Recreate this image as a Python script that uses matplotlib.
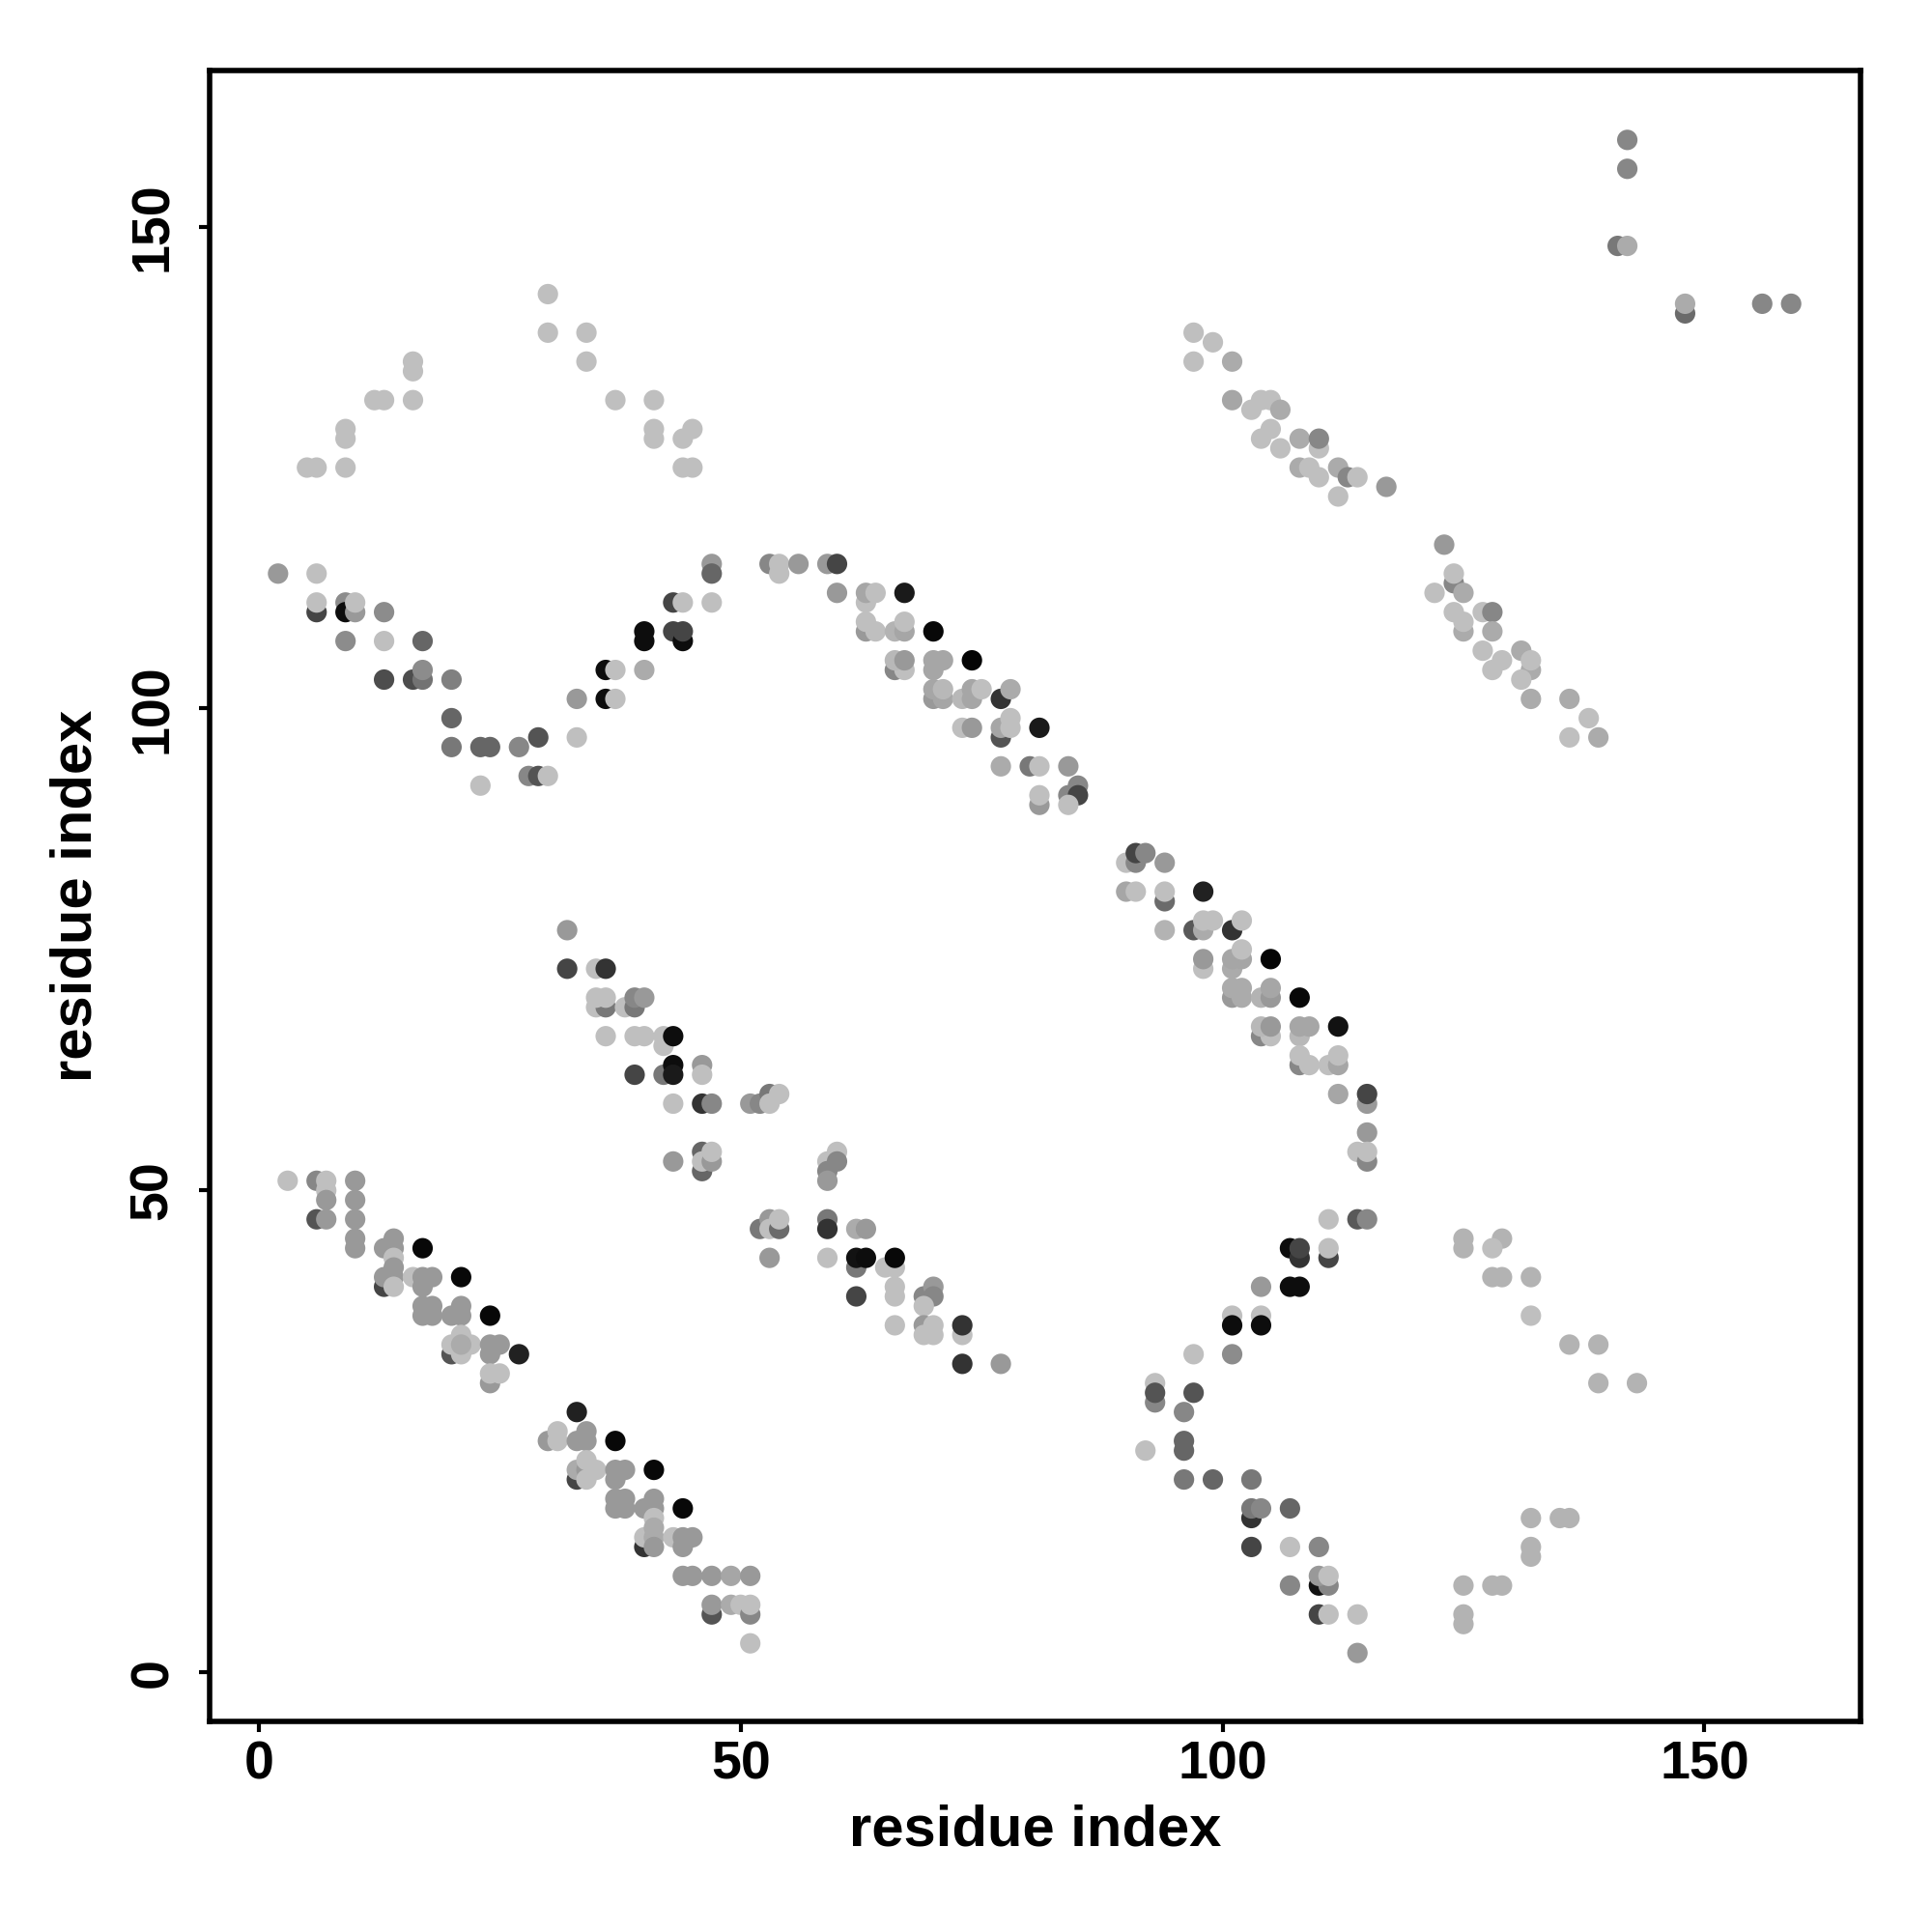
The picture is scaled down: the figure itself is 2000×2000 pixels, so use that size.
import matplotlib
matplotlib.use("Agg")
import matplotlib.pyplot as plt
import numpy as np

# contact points: (residue i, residue j, grey level 0=black .. 1=white)
L = 0.75  # lightest grey used in the map

top_arc = [
    (30, 143, L), (30, 139, L), (34, 139, L), (16, 136, L), (16, 135, L), (34, 136, L),
    (12, 132, L), (13, 132, L), (16, 132, L), (37, 132, L), (41, 132, L),
    (9, 129, L), (9, 128, L), (41, 129, L), (41, 128, L), (45, 129, L), (44, 128, L),
    (5, 125, L), (6, 125, L), (9, 125, L), (44, 125, L), (45, 125, L),
]

mid_arc = [
    (2, 114, 0.6), (6, 114, L), (47, 115, 0.6), (47, 114, 0.4),
    (6, 110, 0.27), (6, 111, L), (9, 111, 0.55), (9, 110, 0.05), (10, 110, 0.6), (10, 111, L),
    (13, 110, 0.55), (43, 111, 0.27), (44, 111, L), (47, 111, L),
    (40, 108, 0.05), (40, 107, 0.05), (43, 108, 0.27), (44, 107, 0.05), (44, 108, 0.27),
    (9, 107, 0.55), (13, 107, L), (17, 107, 0.4),
    (36, 104, 0.05), (37, 104, L), (40, 104, 0.67),
    (13, 103, 0.3), (16, 103, 0.3), (17, 103, 0.45), (17, 104, 0.55), (20, 103, 0.5),
    (33, 101, 0.6), (36, 101, 0.05), (37, 101, L),
    (20, 99, 0.4), (20, 96, 0.47), (23, 96, 0.4), (24, 96, 0.4), (27, 96, 0.53),
    (29, 97, 0.33), (33, 97, L), (23, 92, L), (28, 93, 0.53), (29, 93, 0.33), (30, 93, L),
]

diag_upper = [
    (53, 115, 0.53), (54, 114, L), (54, 115, L), (56, 115, 0.6), (59, 115, 0.6), (60, 115, 0.27),
    (60, 112, 0.6), (63, 111, L), (63, 112, 0.65), (64, 112, L), (67, 112, 0.1),
    (63, 108, 0.6), (63, 109, L), (64, 108, L), (66, 108, 0.7), (67, 108, 0.65), (67, 109, L),
    (70, 108, 0.03),
    (66, 104, 0.53), (67, 104, L), (66, 105, 0.72), (67, 105, 0.6),
    (70, 104, 0.65), (70, 105, 0.65), (71, 105, 0.65), (74, 105, 0.02),
    (70, 101, 0.6), (71, 101, 0.65), (70, 102, 0.65), (71, 102, 0.72),
    (73, 101, 0.72), (74, 101, 0.65), (74, 102, 0.65), (75, 102, L),
    (77, 101, 0.2), (78, 102, 0.67),
    (73, 98, L), (74, 98, 0.6), (77, 97, 0.33), (77, 98, 0.65), (78, 98, L), (78, 99, L),
    (81, 98, 0.1),
    (77, 94, 0.67), (80, 94, 0.47), (81, 94, L), (84, 94, 0.6),
    (81, 90, 0.6), (81, 91, L), (84, 91, 0.53), (85, 92, 0.53), (85, 91, 0.27), (84, 90, L),
]

upper_right = [
    (97, 139, L), (99, 138, L), (97, 136, L), (101, 136, 0.67),
    (101, 132, 0.65), (103, 131, L), (104, 132, L), (105, 132, L), (106, 131, 0.67),
    (105, 129, L), (104, 128, L), (106, 127, L), (108, 128, 0.67),
    (110, 127, L), (110, 128, 0.53),
    (108, 125, 0.67), (109, 125, L), (110, 124, L), (112, 125, 0.67),
    (113, 124, 0.53), (114, 124, L), (112, 122, L), (117, 123, 0.6),
    (123, 117, 0.6), (124, 113, 0.53), (124, 114, L), (122, 112, L), (125, 112, 0.67),
    (124, 110, L), (125, 108, 0.67), (125, 109, L), (127, 110, L), (128, 110, 0.53),
    (128, 108, 0.67), (127, 106, L), (129, 105, L), (128, 104, L),
    (131, 106, 0.67), (132, 104, 0.67), (132, 105, L), (131, 103, L),
    (132, 101, 0.67), (136, 101, 0.67), (138, 99, L), (136, 97, L), (139, 97, 0.67),
]

corner = [
    (142, 159, 0.53), (142, 156, 0.53), (141, 148, 0.47), (142, 148, 0.67),
    (148, 141, 0.42), (148, 142, 0.67), (156, 142, 0.53), (159, 142, 0.53),
]

diag_mid = [
    (32, 77, 0.6), (32, 73, 0.27), (35, 73, L), (36, 73, 0.2),
    (35, 69, L), (36, 69, 0.47), (35, 70, L), (36, 70, L),
    (38, 69, L), (39, 69, 0.47), (39, 70, 0.53), (40, 70, 0.6),
    (36, 66, L), (39, 66, L), (40, 66, L), (42, 65, L), (42, 66, L), (43, 66, 0.05),
    (39, 62, 0.27), (42, 62, 0.47), (43, 63, 0.05), (43, 62, 0.1), (46, 63, 0.6), (46, 62, L),
    (43, 59, L), (46, 59, 0.2), (47, 59, 0.53),
    (51, 59, 0.6), (52, 59, 0.53), (53, 60, 0.47), (53, 59, L), (54, 60, L),
    (43, 53, 0.6), (46, 52, 0.4), (46, 54, 0.4), (46, 53, L), (47, 53, 0.6), (47, 54, L),
]

diag_right = [
    (90, 84, L), (91, 84, 0.53), (91, 85, 0.27), (92, 85, 0.53), (94, 84, 0.6),
    (90, 81, 0.65), (91, 81, L), (94, 80, 0.42), (94, 81, L), (98, 81, 0.13),
    (94, 77, 0.7), (97, 77, 0.35), (98, 77, 0.67), (98, 78, L), (99, 78, L),
    (101, 77, 0.2), (102, 78, L),
    (98, 73, L), (98, 74, 0.6), (101, 73, 0.67), (101, 74, 0.65), (102, 74, 0.65), (102, 75, L),
    (105, 74, 0.02),
    (101, 70, 0.6), (102, 70, 0.67), (101, 71, 0.67), (102, 71, 0.67),
    (104, 70, 0.7), (105, 70, 0.6), (105, 71, 0.65), (108, 70, 0.03),
    (104, 66, 0.53), (105, 66, L), (104, 67, 0.72), (105, 67, 0.6),
    (108, 66, 0.72), (108, 67, 0.65), (109, 67, 0.65), (112, 67, 0.07),
    (108, 63, 0.53), (108, 64, L), (109, 63, L), (111, 63, L), (112, 63, 0.65), (112, 64, L),
    (112, 60, 0.65), (115, 59, 0.6), (115, 60, 0.27), (115, 56, 0.6),
    (114, 54, L), (115, 53, 0.53), (115, 54, L),
    (111, 47, L), (114, 47, 0.35), (115, 47, 0.53),
]

diag_low_left = [
    (3, 51, L), (6, 51, 0.53), (7, 51, L), (7, 50, L), (7, 49, 0.6),
    (10, 51, 0.6), (10, 49, 0.6), (10, 47, 0.6), (6, 47, 0.33), (7, 47, 0.6),
    (10, 45, 0.6), (10, 44, 0.6), (13, 44, 0.6), (14, 45, 0.6), (14, 44, 0.6), (17, 44, 0.03),
    (14, 43, L), (13, 40, 0.27), (13, 41, 0.6), (14, 42, 0.6), (14, 41, 0.6), (14, 40, L),
    (16, 41, L), (17, 41, 0.6), (18, 41, 0.6), (17, 40, 0.6), (21, 41, 0.03),
    (17, 38, 0.6), (18, 38, 0.6), (17, 37, 0.6), (18, 37, 0.6),
    (20, 37, 0.6), (21, 38, 0.6), (21, 37, 0.6), (24, 37, 0.03),
    (20, 33, 0.33), (20, 34, L), (21, 35, L), (22, 34, L), (21, 33, L), (21, 34, 0.67),
    (24, 34, 0.6), (25, 34, 0.6), (24, 33, 0.6), (27, 33, 0.13),
    (24, 30, 0.6), (24, 31, L), (25, 31, L),
]

diag_low_mid = [
    (33, 27, 0.13), (30, 24, 0.6), (31, 25, L), (31, 24, L),
    (33, 24, 0.6), (34, 25, 0.6), (34, 24, 0.6), (37, 24, 0.03),
    (33, 20, 0.27), (33, 21, 0.67), (34, 21, 0.6), (34, 22, L), (35, 21, L), (34, 20, L),
    (37, 21, 0.6), (38, 21, 0.6), (37, 20, 0.6), (41, 21, 0.03),
    (37, 18, 0.6), (38, 18, 0.6), (37, 17, 0.6), (38, 17, 0.6),
    (40, 17, 0.6), (41, 18, 0.6), (41, 17, 0.6), (44, 17, 0.03),
    (41, 16, L), (40, 13, 0.2), (40, 14, L), (41, 15, 0.67), (41, 14, 0.67), (41, 13, 0.6),
    (43, 14, L), (44, 14, 0.6), (45, 14, 0.6), (44, 13, 0.6),
    (44, 10, 0.6), (45, 10, 0.6), (47, 10, 0.6), (49, 10, 0.65), (51, 10, 0.6),
    (47, 6, 0.33), (47, 7, 0.6), (49, 7, 0.67), (50, 7, L), (51, 6, 0.53), (51, 7, L),
    (51, 3, L),
]

diag_low_right = [
    (60, 54, L), (59, 53, L), (60, 53, 0.53), (59, 52, 0.53), (59, 51, 0.6),
    (52, 46, 0.47), (53, 47, 0.6), (53, 46, L), (54, 46, 0.42), (54, 47, L),
    (53, 43, 0.6), (59, 47, 0.47), (59, 46, 0.2), (62, 46, 0.67), (63, 46, 0.6),
    (59, 43, L), (62, 42, 0.47), (62, 43, 0.07), (63, 43, 0.05),
    (65, 42, L), (66, 42, L), (66, 43, 0.03),
    (62, 39, 0.27), (66, 40, L), (66, 39, L),
    (69, 39, 0.53), (70, 40, 0.6), (70, 39, 0.53), (69, 38, L),
    (66, 36, L), (69, 36, 0.6), (70, 36, L), (69, 35, L), (70, 35, L),
    (73, 35, L), (73, 36, 0.2), (73, 32, 0.2), (77, 32, 0.6),
]

v_shape = [
    (107, 44, 0.05), (108, 43, 0.2), (108, 44, 0.27), (111, 43, 0.27), (111, 44, L),
    (104, 40, 0.6), (107, 40, 0.05), (108, 40, 0.05),
    (101, 37, L), (101, 36, 0.05), (104, 37, L), (104, 36, 0.05),
    (97, 33, L), (101, 33, 0.55),
    (93, 28, 0.53), (93, 30, L), (93, 29, 0.33), (97, 29, 0.33), (96, 27, 0.53),
    (96, 24, 0.4), (96, 23, 0.4), (92, 23, L),
    (96, 20, 0.47), (99, 20, 0.4), (103, 20, 0.47),
    (103, 16, 0.2), (103, 17, 0.47), (104, 17, 0.53), (107, 17, 0.4),
    (103, 13, 0.27), (107, 13, L), (110, 13, 0.53),
    (107, 9, 0.53), (110, 9, 0.07), (111, 9, 0.53), (110, 10, 0.6), (111, 10, L),
    (110, 6, 0.27), (111, 6, L), (114, 6, L), (114, 2, 0.6),
]

far_right = [
    (125, 45, 0.7), (125, 44, 0.7), (129, 45, 0.7), (128, 44, L),
    (128, 41, 0.7), (129, 41, 0.7), (132, 41, 0.7), (132, 37, L),
    (136, 34, 0.7), (139, 34, 0.7), (139, 30, 0.7), (143, 30, 0.7),
    (132, 16, 0.7), (135, 16, 0.7), (136, 16, 0.7), (132, 13, 0.7), (132, 12, 0.7),
    (125, 9, 0.7), (128, 9, 0.7), (129, 9, 0.7), (125, 6, 0.7), (125, 5, 0.7),
]

blocks = [top_arc, mid_arc, diag_upper, upper_right, corner, diag_mid,
          diag_right, diag_low_left, diag_low_mid, diag_low_right, v_shape, far_right]
pts = np.array([p for b in blocks for p in b], dtype=float)
x, y, g = pts[:, 0], pts[:, 1], pts[:, 2]

plt.rcParams['font.family'] = ['Liberation Sans', 'DejaVu Sans']
plt.rcParams['font.weight'] = 'bold'

fig = plt.figure(figsize=(10, 10), dpi=200)
ax = fig.add_axes([0.1085, 0.109, 0.8545, 0.8545])

colors = np.stack([g, g, g], axis=1)
ax.scatter(x, y, s=58, c=colors, edgecolors='none', zorder=3)

ax.set_xlim(-5.1, 166.2)
ax.set_ylim(-5.1, 166.2)
ax.set_xticks([0, 50, 100, 150])
ax.set_yticks([0, 50, 100, 150])
ax.tick_params(axis='both', direction='out', length=4, width=1.5, labelsize=20)
ax.tick_params(axis='x', pad=3)
ax.tick_params(axis='y', pad=7.5)
for lab in ax.get_yticklabels():
    lab.set_rotation(90)
    lab.set_va('center')
for sp in ax.spines.values():
    sp.set_linewidth(2.0)

ax.set_xlabel('residue index', fontsize=21.5, fontweight='bold', labelpad=5)
ax.set_ylabel('residue index', fontsize=21.5, fontweight='bold', labelpad=9.5)

fig.savefig('out.png', dpi=200, facecolor='white')
